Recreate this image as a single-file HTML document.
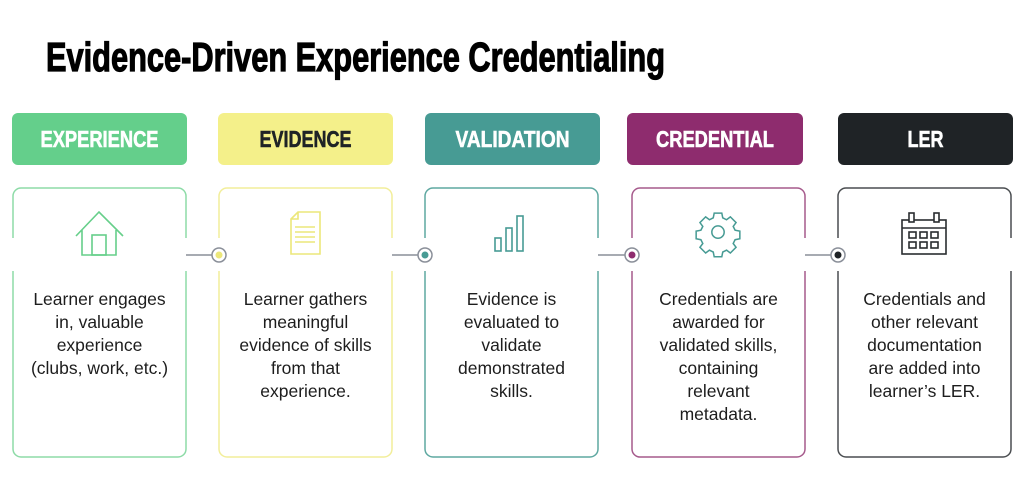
<!DOCTYPE html>
<html><head><meta charset="utf-8"><style>
html,body{margin:0;padding:0;background:#fff;width:1024px;height:494px;overflow:hidden}
svg{display:block}
.t{font-family:"Liberation Sans",sans-serif;font-size:17.5px;fill:#1d1d1d;text-anchor:middle}
.h{font-family:"Liberation Sans",sans-serif;font-weight:bold;font-size:23px;text-anchor:middle}
</style></head><body>
<svg width="1024" height="494" viewBox="0 0 1024 494">
<text x="46" y="71" font-family="Liberation Sans, sans-serif" font-weight="bold" font-size="41" fill="#000" stroke="#000" stroke-width="1.2" textLength="619" lengthAdjust="spacingAndGlyphs">Evidence-Driven Experience Credentialing</text>

<!-- headers -->
<rect x="12" y="113" width="175" height="52" rx="6" fill="#64cf8b"/>
<text class="h" x="99.5" y="147" fill="#fff" stroke="#fff" stroke-width="0.6" textLength="118" lengthAdjust="spacingAndGlyphs">EXPERIENCE</text>
<rect x="218" y="113" width="175" height="52" rx="6" fill="#f4f08a"/>
<text class="h" x="305.5" y="147" fill="#1f2326" stroke="#1f2326" stroke-width="0.6" textLength="92" lengthAdjust="spacingAndGlyphs">EVIDENCE</text>
<rect x="425" y="113" width="175" height="52" rx="6" fill="#479b94"/>
<text class="h" x="512.5" y="147" fill="#fff" stroke="#fff" stroke-width="0.6" textLength="114" lengthAdjust="spacingAndGlyphs">VALIDATION</text>
<rect x="627" y="113" width="176" height="52" rx="6" fill="#8e2c6e"/>
<text class="h" x="715" y="147" fill="#fff" stroke="#fff" stroke-width="0.6" textLength="118" lengthAdjust="spacingAndGlyphs">CREDENTIAL</text>
<rect x="838" y="113" width="175" height="52" rx="6" fill="#1f2326"/>
<text class="h" x="925.5" y="147" fill="#fff" stroke="#fff" stroke-width="0.6" textLength="36" lengthAdjust="spacingAndGlyphs">LER</text>

<!-- boxes with gaps -->
<g fill="none" stroke-width="1.5">
<path d="M13 238 V196 a8 8 0 0 1 8 -8 H178 a8 8 0 0 1 8 8 V238 M186 271 V449 a8 8 0 0 1 -8 8 H21 a8 8 0 0 1 -8 -8 V271" stroke="#8ddba7"/>
<path d="M219 238 V196 a8 8 0 0 1 8 -8 H384 a8 8 0 0 1 8 8 V238 M392 271 V449 a8 8 0 0 1 -8 8 H227 a8 8 0 0 1 -8 -8 V271" stroke="#f2ee9a"/>
<path d="M425 238 V196 a8 8 0 0 1 8 -8 H590 a8 8 0 0 1 8 8 V238 M598 271 V449 a8 8 0 0 1 -8 8 H433 a8 8 0 0 1 -8 -8 V271" stroke="#5ea8a1"/>
<path d="M632 238 V196 a8 8 0 0 1 8 -8 H797 a8 8 0 0 1 8 8 V238 M805 271 V449 a8 8 0 0 1 -8 8 H640 a8 8 0 0 1 -8 -8 V271" stroke="#a65a8c"/>
<path d="M838 238 V196 a8 8 0 0 1 8 -8 H1003 a8 8 0 0 1 8 8 V238 M1011 271 V449 a8 8 0 0 1 -8 8 H846 a8 8 0 0 1 -8 -8 V271" stroke="#4a4d50"/>
</g>
<!-- connectors -->
<g stroke="#8a8f99" stroke-width="1.5" fill="#fff">
<line x1="186" y1="255" x2="212" y2="255"/><circle cx="219" cy="255" r="7"/>
<line x1="392" y1="255" x2="418" y2="255"/><circle cx="425" cy="255" r="7"/>
<line x1="598" y1="255" x2="625" y2="255"/><circle cx="632" cy="255" r="7"/>
<line x1="805" y1="255" x2="831" y2="255"/><circle cx="838" cy="255" r="7"/>
</g>
<circle cx="219" cy="255" r="3.5" fill="#ece77a"/>
<circle cx="425" cy="255" r="3.5" fill="#479b94"/>
<circle cx="632" cy="255" r="3.5" fill="#8e2c6e"/>
<circle cx="838" cy="255" r="3.5" fill="#1f2326"/>

<!-- icons -->
<g fill="none" stroke-width="1.6">
<g stroke="#66cf8a"><path d="M76 236 L99 212 L123 236 M82 230 V255 H116 V230"/><rect x="92" y="235" width="14" height="20"/></g>
<g stroke="#ece77a"><path d="M298 212 H320 V254 H291 V219 Z M291 219 H298 V212"/><path d="M295 227 H315 M295 232 H315 M295 237 H315 M295 242 H315"/></g>
<g stroke="#479b94"><rect x="495" y="238" width="6" height="13"/><rect x="506" y="228" width="6" height="23"/><rect x="517" y="216" width="6" height="35"/></g>
<g stroke="#479b94" transform="translate(718 234) scale(0.95) translate(-718 -234)"><circle cx="718" cy="232" r="6.5"/>
<path d="M714 212 h8 l1 5 l4 2 l4 -3 l6 6 l-3 4 l2 4 l5 1 v8 l-5 1 l-2 4 l3 4 l-6 6 l-4 -3 l-4 2 l-1 5 h-8 l-1 -5 l-4 -2 l-4 3 l-6 -6 l3 -4 l-2 -4 l-5 -1 v-8 l5 -1 l2 -4 l-3 -4 l6 -6 l4 3 l4 -2 Z"/></g>
<g stroke="#2a2d30"><rect x="902" y="220" width="44" height="34"/><path d="M902 228 H946"/><rect x="909" y="213" width="5" height="9" fill="#fff"/><rect x="934" y="213" width="5" height="9" fill="#fff"/>
<rect x="909" y="232" width="7" height="6"/><rect x="920" y="232" width="7" height="6"/><rect x="931" y="232" width="7" height="6"/>
<rect x="909" y="242" width="7" height="6"/><rect x="920" y="242" width="7" height="6"/><rect x="931" y="242" width="7" height="6"/></g>
</g>

<!-- texts -->
<g class="t">
<text x="99.5" y="305">Learner engages</text><text x="99.5" y="328">in, valuable</text><text x="99.5" y="351">experience</text><text x="99.5" y="374">(clubs, work, etc.)</text>
<text x="305.5" y="305">Learner gathers</text><text x="305.5" y="328">meaningful</text><text x="305.5" y="351">evidence of skills</text><text x="305.5" y="374">from that</text><text x="305.5" y="397">experience.</text>
<text x="511.5" y="305">Evidence is</text><text x="511.5" y="328">evaluated to</text><text x="511.5" y="351">validate</text><text x="511.5" y="374">demonstrated</text><text x="511.5" y="397">skills.</text>
<text x="718.5" y="305">Credentials are</text><text x="718.5" y="328">awarded for</text><text x="718.5" y="351">validated skills,</text><text x="718.5" y="374">containing</text><text x="718.5" y="397">relevant</text><text x="718.5" y="420">metadata.</text>
<text x="924.5" y="305">Credentials and</text><text x="924.5" y="328">other relevant</text><text x="924.5" y="351">documentation</text><text x="924.5" y="374">are added into</text><text x="924.5" y="397">learner’s LER.</text>
</g>
</svg>
</body></html>
